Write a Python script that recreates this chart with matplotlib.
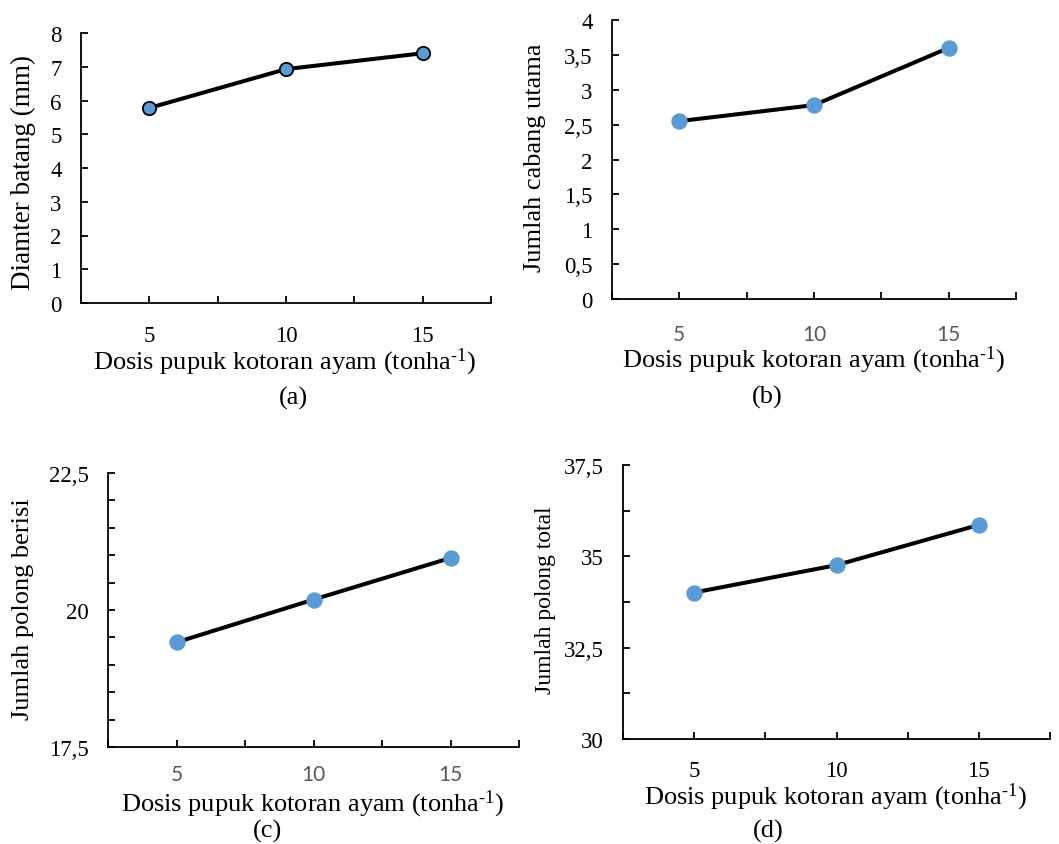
import matplotlib
matplotlib.use("Agg")
import matplotlib.pyplot as plt
import numpy as np

plt.rcParams['font.family'] = ['Liberation Serif', 'DejaVu Serif']
plt.rcParams['mathtext.fontset'] = 'custom'
plt.rcParams['mathtext.rm'] = 'Liberation Serif'

dosis = [5, 10, 15]
dosis_labels = ['5', '10', '15']

diameter = [5.78, 6.93, 7.40]
cabang = [2.55, 2.78, 3.60]
polong_berisi = [19.41, 20.19, 20.95]
polong_total = [34.01, 34.76, 35.86]

xlabel = 'Dosis pupuk kotoran ayam (tonha$\\mathregular{^{\\text{-}1}}$)'
blue = '#5B9BD5'

W, H = 1059, 845
fig = plt.figure(figsize=(W / 100, H / 100), dpi=100)


def px_axes(left, top, right, bottom):
    return fig.add_axes([left / W, 1 - bottom / H, (right - left) / W, (bottom - top) / H])


def panel(rect, y, ylim, yticks, ylabels, yminor, ylab, tag, sans_x, edge, xpad,
          ylab_x, ylab_y, xlab_xy, tag_xy, ylab_size=19):
    ax = px_axes(*rect)
    if edge:
        ax.plot(dosis, y, color='black', lw=2.9, marker='o', ms=9.6,
                mfc=blue, mec='black', mew=1.3, zorder=3)
    else:
        ax.plot(dosis, y, color='black', lw=2.9, zorder=2)
        ax.plot(dosis, y, 'o', color=blue, ms=10.8, zorder=3)
    ax.set_xlim(2.5, 17.5)
    ax.set_ylim(*ylim)
    ax.set_xticks([2.5, 5, 7.5, 10, 12.5, 15, 17.5])
    ax.set_xticklabels(['', dosis_labels[0], '', dosis_labels[1], '', dosis_labels[2], ''])
    ax.set_yticks(yticks)
    ax.set_yticklabels(ylabels)
    if yminor is not None:
        ax.set_yticks(yminor, minor=True)
    for s in ['top', 'right']:
        ax.spines[s].set_visible(False)
    for s in ['left', 'bottom']:
        ax.spines[s].set_linewidth(1.3)
    ax.tick_params(axis='y', which='both', direction='in', length=5, width=1.3,
                   pad=14, labelsize=16.5)
    ax.tick_params(axis='x', direction='in', length=5, width=1.3, pad=xpad)
    if sans_x:
        for t in ax.get_xticklabels():
            t.set_fontfamily('Lato')
            t.set_color('#595959')
            t.set_fontsize(15)
    else:
        for t in ax.get_xticklabels():
            t.set_fontsize(16.5)
    fig.text(ylab_x / W, 1 - ylab_y / H, ylab, rotation=90, ha='center', va='center',
             fontsize=ylab_size)
    fig.text(xlab_xy[0] / W, 1 - xlab_xy[1] / H, xlabel, ha='center', va='center', fontsize=19)
    fig.text(tag_xy[0] / W, 1 - tag_xy[1] / H, tag, ha='center', va='center', fontsize=19)
    return ax


panel((81, 34, 491, 304), diameter, (0, 8), range(0, 9), [str(v) for v in range(0, 9)], None,
      'Diamter batang (mm)', '(a)', False, True, 16,
      23, 172, (285, 362), (293, 398), ylab_size=19.5)

panel((612, 21, 1016, 300), cabang, (0, 4), np.arange(0, 4.01, 0.5),
      ['0', '0,5', '1', '1,5', '2', '2,5', '3', '3,5', '4'], None,
      'Jumlah cabang utama', '(b)', True, False, 18,
      535, 158, (814, 360), (767, 397))

panel((108, 474, 519, 748), polong_berisi, (17.5, 22.5), [17.5, 20, 22.5],
      ['17,5', '20', '22,5'], np.arange(17.5, 22.51, 0.5),
      'Jumlah polong berisi', '(c)', True, False, 12,
      23, 609, (313, 804), (267, 831))

panel((623, 466, 1050, 740), polong_total, (30, 37.5), [30, 32.5, 35, 37.5],
      ['30', '32,5', '35', '37,5'], np.arange(30, 37.51, 1.25),
      'Jumlah polong total', '(d)', False, False, 15,
      545, 600, (836, 797), (768, 831), ylab_size=17)

fig.savefig('out.png', dpi=100)
